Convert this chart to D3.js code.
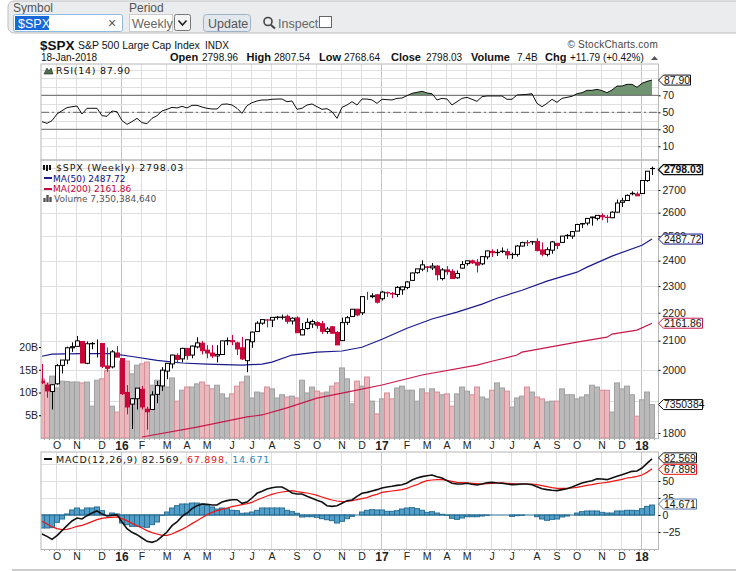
<!DOCTYPE html>
<html>
<head>
<meta charset="utf-8">
<script src="https://cdn.jsdelivr.net/npm/d3@7"></script>
<style>
  body { margin: 0; background: #fff; }
  svg { display: block; }
  text { font-family: "Liberation Sans", Arial, sans-serif; }
  .leg { font-family: "DejaVu Sans", sans-serif; }
</style>
</head>
<body>
<div class="chart"></div>
<script>
// weekly candles, first one is the week of 14-Sep-2015
const opens = [1963,1950,1929,1954,2015,2033,2075,2080,2097,2022,2089,2091,2090,2013,2010,2057,2038,1926,1889,1906,1936,1873,1872,1920,1947,1996,2020,2049,2037,2073,2050,2078,2091,2067,2057,2047,2052,2100,2100,2092,2075,2031,2096,2132,2162,2173,2173,2183,2183,2187,2170,2181,2120,2143,2159,2164,2160,2132,2149,2129,2100,2165,2186,2213,2200,2258,2260,2267,2252,2274,2270,2268,2286,2295,2322,2352,2366,2375,2371,2378,2329,2363,2357,2332,2370,2388,2399,2393,2387,2415,2437,2432,2437,2436,2424,2425,2459,2473,2476,2478,2443,2425,2442,2470,2474,2503,2500,2521,2551,2555,2578,2575,2587,2580,2578,2602,2645,2653,2685,2682,2684,2743,2798.96]
const highs = [2020,1957,1953,2020,2033,2079,2094,2116,2093,2097,2095,2104,2090,2076,2067,2081,2038,1950,1908,1940,1947,1881,1930,1963,2009,2022,2052,2056,2075,2073,2083,2112,2099,2084,2084,2084,2100,2111,2120,2096,2113,2104,2132,2169,2175,2177,2182,2188,2193,2193,2183,2187,2163,2180,2175,2169,2170,2148,2152,2133,2182,2188,2213,2214,2260,2278,2273,2268,2282,2279,2277,2300,2300,2319,2352,2367,2401,2378,2390,2382,2370,2378,2366,2361,2398,2400,2404,2406,2416,2440,2446,2446,2453,2448,2432,2463,2477,2484,2480,2491,2474,2454,2480,2472,2501,2509,2519,2552,2555,2576,2582,2588,2597,2590,2606,2657,2665,2680,2694,2692,2743,2787,2807.54]
const lows = [1953,1909,1872,1951,1988,2019,2061,2080,2023,2019,2070,2042,2006,1993,2005,2043,1918,1857,1812,1872,1872,1810,1872,1892,1931,1969,2005,2022,2025,2034,2039,2073,2052,2039,2040,2025,2052,2084,2084,2050,2033,1992,2075,2132,2156,2147,2148,2175,2175,2160,2157,2127,2119,2139,2145,2142,2124,2124,2127,2084,2100,2156,2186,2187,2192,2248,2254,2234,2245,2258,2254,2258,2267,2288,2322,2348,2358,2354,2362,2322,2322,2344,2328,2328,2368,2380,2387,2353,2382,2405,2415,2419,2430,2406,2407,2416,2457,2459,2464,2437,2417,2417,2428,2446,2474,2488,2489,2521,2534,2545,2544,2566,2567,2557,2576,2601,2625,2651,2676,2673,2683,2737,2768.64]
const closes = [1958,1931,1951,2014,2033,2075,2079,2099,2023,2089,2090,2091,2012,2005,2061,2043,1922,1880,1906,1940,1880,1865,1918,1948,1999,2022,2050,2035,2073,2048,2081,2092,2065,2057,2047,2052,2099,2099,2096,2071,2037,2103,2130,2162,2175,2174,2183,2184,2184,2169,2180,2128,2139,2165,2168,2154,2133,2141,2126,2085,2164,2182,2213,2192,2260,2258,2263,2239,2277,2275,2272,2295,2297,2316,2351,2367,2383,2373,2378,2344,2363,2356,2329,2349,2384,2399,2391,2382,2416,2439,2432,2433,2438,2423,2425,2459,2473,2472,2477,2441,2426,2444,2476,2461,2500,2502,2519,2549,2553,2575,2581,2588,2582,2579,2602,2642,2652,2676,2683,2674,2743,2786,2798.03]

// moving averages read every few weeks
const ma50Weeks = [0,2,8,14,18,23,28,33,40,44,46,50,55,60,64,68,73,78,83,88,91,96,101,107,109,114,120,122]
const ma50 = [2046,2053,2055,2055,2045,2032,2023,2019,2016,2019,2026,2050,2060,2064,2077,2105,2144,2177,2202,2232,2254,2284,2319,2354,2374,2418,2462,2487.72]
const ma200Weeks = [20,31,41,44,49,55,61,68,76,87,90,95,96,107,113,114,119,122]
const ma200 = [1788,1818,1849,1855,1877,1908,1927,1950,1983,2016,2029,2050,2060,2095,2112,2123,2137,2161.86]

// volume in billions
const volume = [13.0,12.1,13.6,11.0,12.5,12.4,12.3,12.3,12.1,12.3,7.0,12.7,13.0,14.9,7.0,5.7,16.9,16.9,14.1,16.0,16.3,16.7,11.6,12.7,12.3,11.2,13.2,8.1,10.5,11.2,11.2,11.9,12.3,11.6,10.8,11.6,9.7,8.8,9.7,11.4,12.3,13.6,8.8,10.1,9.9,11.2,10.8,8.8,9.5,9.0,9.2,8.8,12.7,9.9,11.2,10.3,9.9,10.1,11.4,12.1,15.4,13.0,7.5,12.5,11.4,13.4,8.1,5.3,8.6,9.9,8.6,11.0,11.4,10.5,10.5,8.1,10.8,9.9,10.8,10.1,9.5,9.7,7.0,9.7,11.2,10.3,9.5,11.2,9.0,8.6,10.5,12.1,11.0,10.3,6.8,8.8,9.2,11.2,10.1,9.0,8.6,7.9,8.1,8.1,10.8,9.5,9.5,8.6,9.0,9.5,11.6,11.2,10.5,10.5,5.7,12.1,10.8,11.4,9.5,4.8,8.4,10.1,7.35]

const rsi = [39.0,37.0,40.2,48.0,51.9,55.5,56.6,57.4,48.0,54.7,54.7,54.7,46.0,45.3,51.5,50.7,40.2,35.8,39.0,42.9,37.8,36.6,42.9,46.0,51.5,53.5,55.8,55.1,57.0,55.1,58.2,58.2,56.2,54.7,53.9,53.9,59.4,59.8,58.6,54.7,48.8,57.8,61.3,63.3,64.5,64.5,65.3,65.6,65.6,62.5,63.3,53.5,54.7,58.6,59.8,56.6,53.5,54.3,50.7,42.9,55.8,58.6,62.5,58.6,65.6,65.6,64.5,60.5,65.3,64.9,64.5,66.4,66.8,69.6,72.3,73.5,74.7,72.7,71.9,64.5,66.4,65.6,58.6,62.5,66.4,67.6,65.3,62.9,68.4,69.2,69.2,69.2,69.2,65.3,65.3,70.4,70.7,71.1,71.9,60.5,56.6,60.5,65.3,61.7,66.4,67.6,68.8,71.9,73.1,75.8,75.8,77.0,75.5,73.1,76.2,80.9,80.9,82.9,82.9,79.4,84.1,86.4,87.9]

const macd = [-27.9,-31.4,-35.8,-30.4,-23.0,-15.7,-8.8,-4.4,-5.9,-1.0,2.9,5.9,1.5,-1.5,-0.5,0.5,-10.3,-20.1,-25.5,-28.9,-33.8,-38.7,-40.2,-37.7,-31.4,-25.0,-15.7,-10.3,-2.0,2.9,9.3,13.7,16.2,15.7,14.7,14.7,19.1,21.1,22.5,22.5,17.2,19.1,25.0,31.9,34.8,38.2,40.2,41.2,41.2,37.3,32.4,30.9,30.9,27.5,24.5,21.6,19.1,13.7,12.7,13.7,17.2,21.1,22.1,27.5,31.9,33.3,35.3,37.3,39.7,41.2,42.2,43.6,44.6,47.1,51.5,54.4,56.4,57.8,58.8,56.4,54.4,50.5,46.6,45.6,45.6,46.6,45.1,44.1,45.6,47.5,48.0,47.1,46.6,45.6,44.6,45.1,45.6,45.6,44.6,41.7,38.7,37.3,36.3,35.8,37.3,38.7,41.2,44.1,47.1,49.0,50.5,53.4,52.9,52.0,54.4,56.9,59.3,61.8,64.2,64.7,69.1,76.0,82.569]
const signal = [-9.3,-13.2,-17.2,-20.1,-21.6,-21.1,-19.1,-16.7,-15.2,-12.7,-9.8,-6.9,-4.9,-3.9,-3.4,-2.9,-5.4,-8.3,-12.3,-15.7,-19.1,-23.0,-26.0,-27.9,-29.9,-29.9,-27.9,-24.5,-21.1,-17.2,-12.7,-8.3,-3.9,0.5,3.9,6.4,8.3,10.3,12.3,13.7,15.2,16.7,18.6,22.1,25.0,27.9,30.4,32.4,33.8,34.8,35.8,34.3,33.3,32.4,30.9,28.9,26.5,24.0,22.1,20.6,19.6,20.1,21.1,22.5,24.0,25.5,28.4,30.4,33.3,34.3,35.3,36.3,37.3,39.2,42.2,44.6,48.0,50.5,51.5,52.0,52.0,51.0,49.5,48.0,47.5,47.1,46.6,46.1,45.6,46.1,46.6,47.1,47.1,46.6,46.1,45.6,45.6,45.6,45.6,44.6,43.1,41.7,40.2,39.2,39.2,39.2,39.7,40.7,42.2,43.6,44.6,46.1,47.1,48.0,49.5,51.0,52.5,54.4,55.4,56.9,58.8,62.7,67.898]
const hist = [-19.1,-19.1,-18.6,-10.8,-5.9,1.5,7.4,10.3,7.4,10.3,10.3,11.8,6.4,0,2.9,1.5,-11.8,-14.2,-16.7,-16.7,-17.6,-18.1,-14.2,-10.3,-0.5,4.4,10.3,13.7,16.2,16.2,17.6,17.6,16.2,14.2,11.8,8.8,10.3,9.3,6.9,6.4,2.5,2.9,4.4,6.9,10.3,10.3,10.3,10.3,10.3,6.9,4.9,2.5,-2.9,-2.5,-2.5,-3.4,-5.4,-6.9,-8.3,-11.8,-9.3,-5.4,-2.0,0,4.4,6.9,7.8,7.4,7.4,5.4,5.4,6.4,8.8,10.3,10.8,9.3,6.9,3.9,4.9,2.9,1.0,-0.5,-4.9,-6.4,-4.4,-2.5,-2.5,-2.5,-1.5,-0.5,0,0,0,0,-2.0,-1.0,-0.5,0,0,-2.5,-5.9,-7.8,-6.4,-5.9,-2.9,-1.5,0,2.9,4.9,5.9,5.9,5.9,3.9,2.9,2.9,5.9,5.9,6.9,6.9,6.4,9.3,12.7,14.671]

const monthWeeks = [3,7,12,16,20,25,29,33,38,42,46,51,55,60,64,68,73,77,81,85,90,94,99,103,107,112,116,120]
const monthLabels = ["O","N","D","16","F","M","A","M","J","J","A","S","O","N","D","17","F","M","A","M","J","J","A","S","O","N","D","18"]
const yearLabels = ["16","17","18"]
const priceTicks = [1800,2000,2100,2200,2300,2400,2500,2600,2700]
const priceGrid = [1800,1900,2000,2100,2200,2300,2400,2500,2600,2700,2800]
const volumeTicks = [5,10,15,20]
const rsiTicks = [10,30,50,70]
const macdTicks = [-25,0,25,50]

const width = 736
const height = 571
const left = 41
const right = 658.5
const red = "#c9063a"
const frame = "#b8b8b8"
const grid = "#dfdfdf"
const weeks = d3.range(closes.length)

const x = d3.scaleLinear().domain([0, 122]).range([42, 652])
const yRsi = d3.scaleLinear().domain([0, 100]).range([154.8, 69.8])
const yPrice = d3.scaleLog().domain([1800, 2700]).range([433, 190])
const yVol = d3.scaleLinear().domain([0, 20]).range([438, 347])
const yMacd = d3.scaleLinear().domain([0, 50]).range([515, 481])

const svg = d3.select(".chart").append("svg").attr("width", width).attr("height", height)
const defs = svg.append("defs")
const addClip = (id, x0, y0, x1, y1) => defs.append("clipPath").attr("id", id)
    .append("rect").attr("x", x0).attr("y", y0).attr("width", x1 - x0).attr("height", y1 - y0)
addClip("clipMain", left, 160, right, 438)
addClip("clipMacd", left, 452, right, 549)
addClip("clipOver", left, 64, right, yRsi(70))

// ---- toolbar
const bar = svg.append("g")
bar.append("rect").attr("x", 8).attr("y", 1).attr("width", 760).attr("height", 32).attr("rx", 6)
    .attr("fill", "#ebecee").attr("stroke", "#bdbdbd")
const label = (t, tx, ty, size, fill) => bar.append("text").attr("x", tx).attr("y", ty)
    .attr("font-size", size).attr("fill", fill || "#555").text(t)
label("Symbol", 13, 12, 12)
label("Period", 129, 12, 12)
bar.append("rect").attr("x", 13.5).attr("y", 14.5).attr("width", 109).attr("height", 17).attr("rx", 2)
    .attr("fill", "#fff").attr("stroke", "#8fbbe3")
bar.append("rect").attr("x", 15).attr("y", 16).attr("width", 34).attr("height", 14).attr("fill", "#1668d8")
label("$SPX", 18, 27.5, 12.5, "#fff")
label("×", 108, 28, 14, "#555")
bar.append("rect").attr("x", 129.5).attr("y", 14.5).attr("width", 43).attr("height", 17).attr("fill", "#fff").attr("stroke", "#ccc")
label("Weekly", 132, 27.5, 12.5, "#666")
bar.append("rect").attr("x", 174.5).attr("y", 14.5).attr("width", 16).attr("height", 16).attr("rx", 2).attr("fill", "#f4f4f4").attr("stroke", "#777")
bar.append("path").attr("d", "M178.5 20.5l4 4.5l4-4.5").attr("fill", "none").attr("stroke", "#222").attr("stroke-width", 1.6)
bar.append("rect").attr("x", 203.5).attr("y", 14.5).attr("width", 47).attr("height", 17).attr("rx", 3).attr("fill", "#e3e8ee").attr("stroke", "#9fb3c8")
label("Update", 208, 27.5, 12.5, "#555")
bar.append("circle").attr("cx", 268).attr("cy", 21.5).attr("r", 4).attr("fill", "none").attr("stroke", "#444").attr("stroke-width", 1.6)
bar.append("line").attr("x1", 271).attr("y1", 25).attr("x2", 275).attr("y2", 28.5).attr("stroke", "#444").attr("stroke-width", 2)
label("Inspect", 278, 27.5, 12.5, "#666")
bar.append("rect").attr("x", 319.5).attr("y", 16.5).attr("width", 12).attr("height", 11).attr("fill", "#fff").attr("stroke", "#666")

// ---- heading
const head = svg.append("g")
const headText = (t, tx, ty, size, weight, anchor) => head.append("text").attr("x", tx).attr("y", ty)
    .attr("font-size", size).attr("font-weight", weight || "normal").attr("text-anchor", anchor || "start").attr("fill", "#111").text(t)
headText("$SPX", 40, 49.5, 13.5, "bold")
headText("S&P 500 Large Cap Index", 78, 49, 10.5)
headText("INDX", 205, 49, 10)
headText("18-Jan-2018", 41, 61, 10)
headText("Open", 170, 61, 11, "bold")
headText("2798.96", 202, 61, 10)
headText("High", 246.5, 61, 11, "bold")
headText("2807.54", 274, 61, 10)
headText("Low", 319, 61, 11, "bold")
headText("2768.64", 344, 61, 10)
headText("Close", 391, 61, 11, "bold")
headText("2798.03", 426, 61, 10)
headText("Volume", 471, 61, 11, "bold")
headText("7.4B", 517, 61, 10)
headText("Chg", 545, 61, 11, "bold")
headText("+11.79 (+0.42%)", 570, 61, 10)
head.append("path").attr("d", "M651 60l3.5-4l3.5 4z").attr("fill", "#555")
headText("© StockCharts.com", 658, 48, 10, "normal", "end").attr("fill", "#444").attr("letter-spacing", 0.25)

// ---- grid and frames
const panels = [[64, 160], [160, 438.5], [452, 549.5]]
const gridG = svg.append("g")
panels.forEach(([top, bottom]) => {
    gridG.selectAll(null).data(monthWeeks).join("line")
        .attr("x1", d => x(d) - 0.5).attr("x2", d => x(d) - 0.5)
        .attr("y1", top).attr("y2", bottom)
        .attr("stroke", (d, i) => yearLabels.includes(monthLabels[i]) ? "#c4c4c4" : grid)
})
const hGrid = (vals, scale) => gridG.selectAll(null).data(vals).join("line")
    .attr("x1", left).attr("x2", right)
    .attr("y1", d => Math.round(scale(d)) + 0.5).attr("y2", d => Math.round(scale(d)) + 0.5)
    .attr("stroke", grid)
hGrid(d3.range(10, 101, 10), yRsi)
hGrid(priceGrid, yPrice)
hGrid([-25, 25, 50, 75], yMacd)

// ---- RSI panel
const rsiG = svg.append("g")
rsiG.append("path").datum(weeks)
    .attr("clip-path", "url(#clipOver)")
    .attr("fill", "#6f946f")
    .attr("d", d3.area().x(i => x(i)).y0(yRsi(70)).y1(i => yRsi(rsi[i])))
;[70, 30].forEach(v => rsiG.append("line").attr("x1", left).attr("x2", right)
    .attr("y1", yRsi(v)).attr("y2", yRsi(v)).attr("stroke", "#666").attr("stroke-width", 1))
rsiG.append("line").attr("x1", left).attr("x2", right)
    .attr("y1", yRsi(50)).attr("y2", yRsi(50)).attr("stroke", "#666").attr("stroke-dasharray", "8 3 2 3")
rsiG.append("path").datum(weeks).attr("fill", "none").attr("stroke", "#111").attr("stroke-width", 1)
    .attr("d", d3.line().x(i => x(i)).y(i => yRsi(rsi[i])))

// ---- volume bars, under the price
const isDown = i => i === 0 || closes[i] < closes[i - 1]
const mainG = svg.append("g").attr("clip-path", "url(#clipMain)")
mainG.selectAll("rect.vol").data(weeks).join("rect").attr("class", "vol")
    .attr("x", i => x(i) - 2.5).attr("width", 5)
    .attr("y", i => yVol(volume[i])).attr("height", i => yVol(0) - yVol(volume[i]))
    .attr("fill", i => isDown(i) ? "#e8b9bd" : "#bababa")
    .attr("stroke", i => isDown(i) ? "#d68f98" : "#a0a0a0")

// ---- moving averages
mainG.append("path").datum(d3.range(ma200.length)).attr("fill", "none").attr("stroke", "#c9184a").attr("stroke-width", 1.2)
    .attr("d", d3.line().x(i => x(ma200Weeks[i])).y(i => yPrice(ma200[i])))
mainG.append("path").datum(d3.range(ma50.length)).attr("fill", "none").attr("stroke", "#1a1a8c").attr("stroke-width", 1.2)
    .attr("d", d3.line().x(i => x(ma50Weeks[i])).y(i => yPrice(ma50[i])))

// ---- candles
const candles = mainG.append("g").selectAll("g").data(weeks).join("g")
    .attr("stroke", i => isDown(i) ? red : "#000")
candles.append("line")
    .attr("x1", i => x(i) + 0.5).attr("x2", i => x(i) + 0.5)
    .attr("y1", i => yPrice(highs[i])).attr("y2", i => yPrice(lows[i]))
candles.append("rect")
    .attr("x", i => x(i) - 1.5).attr("width", 4)
    .attr("y", i => yPrice(Math.max(opens[i], closes[i])))
    .attr("height", i => Math.abs(yPrice(opens[i]) - yPrice(closes[i])))
    .attr("fill", i => closes[i] > opens[i] ? "#fff" : (isDown(i) ? red : "#000"))

// ---- MACD panel
const macdG = svg.append("g").attr("clip-path", "url(#clipMacd)")
macdG.selectAll("rect").data(weeks).join("rect")
    .attr("x", i => x(i) - 2.5).attr("width", 5)
    .attr("y", i => Math.min(yMacd(hist[i]), yMacd(0)))
    .attr("height", i => Math.abs(yMacd(hist[i]) - yMacd(0)))
    .attr("fill", "#519fc9").attr("stroke", "#2b6f94")
macdG.append("line").attr("x1", left).attr("x2", x(122) + 2.5)
    .attr("y1", yMacd(0)).attr("y2", yMacd(0)).attr("stroke", "#2b6f94")
macdG.append("path").datum(weeks).attr("fill", "none").attr("stroke", "#f01414").attr("stroke-width", 1.2)
    .attr("d", d3.line().x(i => x(i)).y(i => yMacd(signal[i])))
macdG.append("path").datum(weeks).attr("fill", "none").attr("stroke", "#111").attr("stroke-width", 1.6)
    .attr("d", d3.line().x(i => x(i)).y(i => yMacd(macd[i])))

// ---- frames
panels.forEach(([top, bottom]) => {
    svg.append("rect").attr("x", left).attr("y", top).attr("width", right - left).attr("height", bottom - top)
        .attr("fill", "none").attr("stroke", frame)
})

// ---- axes
const styleAxis = g => {
    g.select(".domain").remove()
    g.selectAll("text").attr("font-family", "Liberation Sans").attr("fill", "#222").attr("font-size", 10.5)
}
const rightAxis = (scale, ticks, fmt) => d3.axisRight(scale).tickValues(ticks).tickFormat(fmt || d3.format("d")).tickSize(2).tickPadding(2)
svg.append("g").attr("transform", `translate(${right},0)`).call(rightAxis(yRsi, rsiTicks)).call(styleAxis)
svg.append("g").attr("transform", `translate(${right},0)`).call(rightAxis(yPrice, priceTicks)).call(styleAxis)
svg.append("g").attr("transform", `translate(${right},0)`).call(rightAxis(yMacd, macdTicks)).call(styleAxis)
svg.append("g").attr("transform", `translate(${left},0)`)
    .call(d3.axisLeft(yVol).tickValues(volumeTicks).tickFormat(d => d + "B").tickSize(2).tickPadding(1))
    .call(styleAxis)

const monthAxis = d3.axisBottom(x).tickValues(monthWeeks).tickFormat((d, i) => monthLabels[i]).tickSize(0).tickPadding(3)
;[438.5, 549.5].forEach(py => {
    svg.append("g").attr("transform", `translate(-0.5,${py})`).call(monthAxis).call(styleAxis)
        .call(g => g.selectAll("text")
            .attr("font-weight", (d, i) => yearLabels.includes(monthLabels[i]) ? "bold" : "normal")
            .attr("font-size", (d, i) => yearLabels.includes(monthLabels[i]) ? 12 : 10.5))
    svg.append("g").selectAll("line").data(weeks).join("line")
        .attr("x1", i => x(i) + 2.5).attr("x2", i => x(i) + 2.5)
        .attr("y1", py).attr("y2", py + 1.5).attr("stroke", "#aaa")
})

// ---- legends
const legend = (t, lx, ly, size, fill, spacing) => svg.append("text").attr("class", "leg")
    .attr("x", lx).attr("y", ly).attr("font-size", size).attr("fill", fill).attr("letter-spacing", spacing || 0).text(t)
legend("RSI(14) 87.90", 56, 74, 9.5, "#111", 0.75)
svg.append("path").attr("d", "M44 74l3-6l2 3l2-3l2 6z").attr("fill", "#4d704d").attr("stroke", "#222").attr("stroke-width", 0.6)
legend("$SPX (Weekly) 2798.03", 56, 171, 9.5, "#111", 0.8)
svg.append("path").attr("d", "M44 165v5M47 165v6M50 165v5").attr("stroke", "#111").attr("stroke-width", 2)
svg.append("line").attr("x1", 44).attr("x2", 52).attr("y1", 178).attr("y2", 178).attr("stroke", "#1a1a8c").attr("stroke-width", 2)
legend("MA(50) 2487.72", 53, 181.5, 9, "#10107e")
svg.append("line").attr("x1", 44).attr("x2", 52).attr("y1", 189).attr("y2", 189).attr("stroke", red).attr("stroke-width", 2)
legend("MA(200) 2161.86", 53, 192, 9, red)
svg.append("path").attr("d", "M44.5 202v-4M47.5 202v-7M50.5 202v-5").attr("stroke", "#555").attr("stroke-width", 2.4)
legend("Volume 7,350,384,640", 54, 202, 9, "#555")

const mt = svg.append("text").attr("class", "leg").attr("x", 56).attr("y", 463).attr("font-size", 9.5).attr("letter-spacing", 0.75)
mt.append("tspan").attr("fill", "#111").text("MACD(12,26,9) 82.569")
mt.append("tspan").attr("fill", "#f01414").text(", 67.898")
mt.append("tspan").attr("fill", "#2b86c0").text(", 14.671")
svg.append("line").attr("x1", 44).attr("x2", 52).attr("y1", 459).attr("y2", 459).attr("stroke", "#111").attr("stroke-width", 2)

// ---- value tags at the right edge
const tag = (t, cy, w, stroke, bold) => {
    const x0 = 658.5
    const g = svg.append("g")
    g.append("path")
        .attr("d", `M${x0} ${cy}l5 -5h${w}v10h-${w}z`)
        .attr("fill", "#fff").attr("stroke", stroke)
        .attr("stroke-width", bold ? 1.4 : 1)
    g.append("text").attr("x", x0 + 5.5).attr("y", cy + 3.7).attr("font-size", 10.4)
        .attr("font-weight", bold ? "bold" : "normal").attr("fill", "#111").text(t)
}
tag("87.90", yRsi(87.9), 27, "#111")
tag("2798.03", yPrice(2798.03) + 1, 39, "#111", true)
tag("2487.72", yPrice(2487.72), 39, "#10107e")
tag("2161.86", yPrice(2161.86), 39, "#c9184a")
tag("7350384", yVol(7.35), 39, "#111")
tag("82.569", yMacd(82.569) - 1, 33, "#111")
tag("67.898", yMacd(67.898) + 0.5, 33, "#f01414")
tag("14.671", yMacd(14.671) - 1, 33, "#4f72a8")

svg.append("line").attr("x1", 12).attr("x2", width).attr("y1", 570).attr("y2", 570).attr("stroke", "#bbb").attr("stroke-width", 1.5)
</script>
</body>
</html>
